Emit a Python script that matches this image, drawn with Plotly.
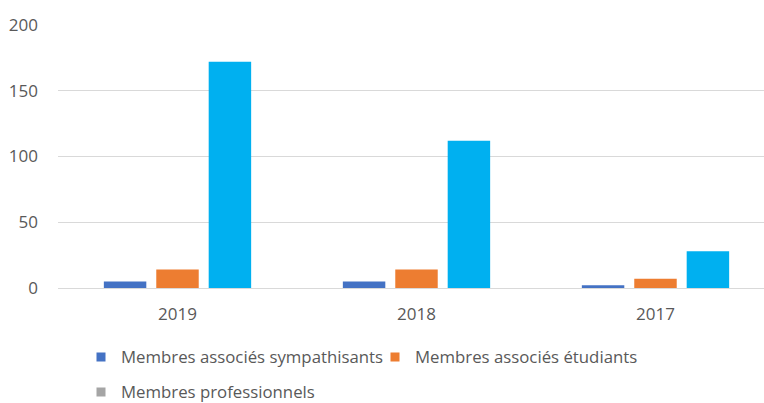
import plotly.graph_objects as go

annees = ['2019', '2018', '2017']
sympathisants = [5, 5, 2]
etudiants = [14, 14, 7]
professionnels = [172, 112, 28]

noms = ['Membres associés sympathisants', 'Membres associés étudiants', 'Membres professionnels']
couleurs = ['#4472C4', '#ED7D31', '#00B0F0']
couleurs_legende = ['#4472C4', '#ED7D31', '#A5A5A5']

fig = go.Figure()

for nom, vals, c in zip(noms, [sympathisants, etudiants, professionnels], couleurs):
    fig.add_trace(go.Bar(
        x=annees, y=vals, name=nom,
        marker=dict(color=c, line=dict(width=0)),
        showlegend=False
    ))

# entrées de légende (la 3e est grise comme dans l'original)
for i, (nom, c) in enumerate(zip(noms, couleurs_legende)):
    fig.add_trace(go.Scatter(
        x=[None], y=[None], name=nom, mode='markers',
        marker=dict(color=c, symbol='square', size=9),
        legend='legend' if i < 2 else 'legend2'
    ))

leg = dict(
    orientation='h', xref='container', yref='container',
    xanchor='left', yanchor='middle', entrywidth=249,
    font=dict(size=16.8, color='#595959', family='Open Sans'),
    bgcolor='rgba(0,0,0,0)', itemwidth=30
)

fig.update_layout(
    width=764, height=403,
    margin=dict(l=58, r=0, t=25, b=115, autoexpand=False),
    paper_bgcolor='white', plot_bgcolor='white',
    barmode='group', bargap=0.342, bargroupgap=0.19,
    font=dict(family='Open Sans', size=17, color='#595959'),
    xaxis=dict(
        type='category', range=[-0.5, 2.454],
        showgrid=False, showline=False,
        ticks='', ticklabelstandoff=14,
        tickfont=dict(size=17, color='#595959')
    ),
    yaxis=dict(
        range=[0, 200], dtick=50, showgrid=True,
        gridcolor='#D9D9D9', gridwidth=1,
        zeroline=True, zerolinecolor='#D9D9D9', zerolinewidth=1,
        showline=False, ticks='', ticklabelstandoff=19,
        tickfont=dict(size=17, color='#595959')
    ),
    legend=dict(leg, x=81 / 764, y=1 - 357 / 403),
    legend2=dict(leg, x=81 / 764, y=1 - 392 / 403),
)

fig.write_html('out.html', config={'displayModeBar': False},
               post_script="document.body.style.margin='0';")
